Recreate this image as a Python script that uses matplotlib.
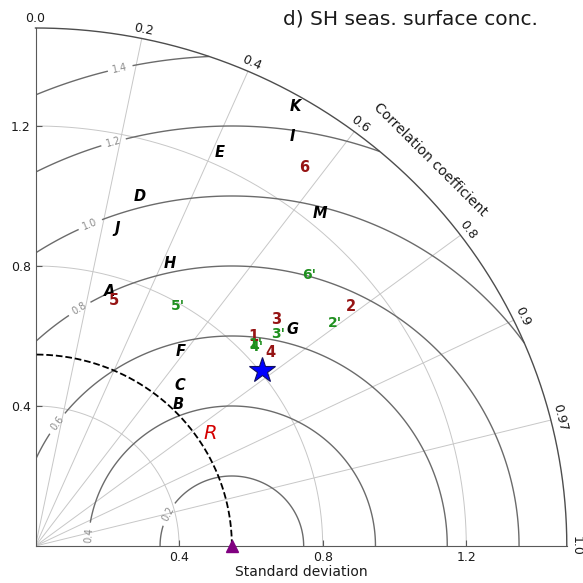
import numpy as np
import matplotlib
matplotlib.use('Agg')
import matplotlib.pyplot as plt

# reference (observations) and plot range
ref_std = 0.547
std_max = 1.48

corr_ticks = [0.0, 0.2, 0.4, 0.6, 0.8, 0.9, 0.97, 1.0]
corr_tick_labels = ['0.0', '0.2', '0.4', '0.6', '0.8', '0.9', '0.97', '1.0']
std_ticks = [0.4, 0.8, 1.2]
rms_levels = [0.2, 0.4, 0.6, 0.8, 1.0, 1.2, 1.4]

# model letters (black)
letter_names = ['A', 'B', 'C', 'D', 'E', 'F', 'G', 'H', 'I', 'J', 'K', 'M']
letter_std = [0.755, 0.568, 0.611, 1.039, 1.235, 0.687, 0.945, 0.889, 1.372, 0.934, 1.448, 1.238]
letter_corr = [0.272, 0.700, 0.659, 0.280, 0.416, 0.589, 0.757, 0.422, 0.521, 0.243, 0.499, 0.640]

# numbered runs (dark red)
num_names = ['1', '2', '3', '4', '5', '6']
num_std = [0.852, 1.113, 0.932, 0.855, 0.734, 1.314]
num_corr = [0.712, 0.789, 0.719, 0.764, 0.298, 0.569]

# primed runs (green)
prime_names = ["1'", "2'", "3'", "4'", "5'", "6'"]
prime_std = [0.841, 1.049, 0.906, 0.839, 0.793, 1.086]
prime_corr = [0.728, 0.794, 0.745, 0.734, 0.502, 0.701]

# R and multi-model mean (star)
r_std, r_corr = 0.582, 0.835
star_std, star_corr = 0.808, 0.782

# RMS label anchor points (x, y)
rms_label_xy = [(0.366, 0.093), (0.147, 0.031), (0.054, 0.355), (0.124, 0.676),
                (0.152, 0.920), (0.217, 1.155), (0.235, 1.369)]


def to_xy(std, corr):
    th = np.arccos(np.asarray(corr))
    return np.asarray(std) * np.cos(th), np.asarray(std) * np.sin(th)


fig = plt.figure(figsize=(5.83, 5.83), dpi=100)
ax = fig.add_axes([35.5 / 583, 37 / 583, 531.3 / 583, 518 / 583])
ax.set_xlim(0, std_max)
ax.set_ylim(0, std_max)

# 1. grid: std arcs and correlation rays
th = np.linspace(0, np.pi / 2, 300)
for s in std_ticks:
    ax.plot(s * np.cos(th), s * np.sin(th), color='0.78', lw=0.7, zorder=1)
for c in corr_ticks[1:-1]:
    t = np.arccos(c)
    ax.plot([0, std_max * np.cos(t)], [0, std_max * np.sin(t)], color='0.78', lw=0.7, zorder=1)

# 2. RMS difference contours
rs, ts = np.meshgrid(np.linspace(0, std_max, 400), np.linspace(0, np.pi / 2, 400))
rms = np.sqrt(ref_std**2 + rs**2 - 2 * ref_std * rs * np.cos(ts))
cs = ax.contour(rs * np.cos(ts), rs * np.sin(ts), rms, levels=rms_levels,
                colors='0.42', linewidths=1.0, zorder=2)
ax.clabel(cs, inline=True, fontsize=7, fmt='%.1f', colors='0.55', manual=rms_label_xy)

# 3. outer arc, reference arc and reference point
ax.plot(std_max * np.cos(th), std_max * np.sin(th), color='0.3', lw=1.0, clip_on=False, zorder=3)
ax.plot(ref_std * np.cos(th), ref_std * np.sin(th), 'k--', lw=1.3, zorder=3)
ax.plot([ref_std], [0], marker='^', color='#800080', ms=8, clip_on=False, zorder=6)

# correlation tick labels
for c, lab in zip(corr_ticks, corr_tick_labels):
    t = np.arccos(c)
    r = std_max + 0.027
    ax.text(r * np.cos(t), r * np.sin(t), lab, rotation=np.degrees(t) - 90,
            ha='center', va='center', fontsize=9, color='0.1', rotation_mode='anchor')
ta = np.radians(45.1)
ax.text(1.557 * np.cos(ta), 1.557 * np.sin(ta), 'Correlation coefficient', rotation=-44.9,
        ha='center', va='center', fontsize=10, color='0.1', rotation_mode='anchor')

# 4. model labels
x, y = to_xy(letter_std, letter_corr)
for n, xi, yi in zip(letter_names, x, y):
    ax.text(xi, yi, n, ha='center', va='center', fontsize=10.5, fontweight='bold',
            fontstyle='italic', color='k', zorder=5)
x, y = to_xy(num_std, num_corr)
for n, xi, yi in zip(num_names, x, y):
    ax.text(xi, yi, n, ha='center', va='center', fontsize=10.5, fontweight='bold',
            color='#961414', zorder=5)
x, y = to_xy(prime_std, prime_corr)
for n, xi, yi in zip(prime_names, x, y):
    ax.text(xi, yi, n, ha='center', va='center', fontsize=10, fontweight='bold',
            color='#1f8f1f', zorder=5)
x, y = to_xy(r_std, r_corr)
ax.text(x, y, 'R', ha='center', va='center', fontsize=14, fontstyle='italic',
        color='#d40000', zorder=5)
x, y = to_xy(star_std, star_corr)
ax.plot([x], [y], marker='*', color='#0000ff', mec='#101060', mew=0.8, ms=19, zorder=6)

# 5. axes styling
for side in ['top', 'right']:
    ax.spines[side].set_visible(False)
for side in ['left', 'bottom']:
    ax.spines[side].set_color('0.35')
ax.set_xticks(std_ticks)
ax.set_yticks(std_ticks)
ax.set_xticklabels(['%.1f' % v for v in std_ticks])
ax.set_yticklabels(['%.1f' % v for v in std_ticks])
ax.tick_params(direction='in', length=4, color='0.35', labelsize=9, labelcolor='0.1')
ax.set_xlabel('Standard deviation', fontsize=10, color='0.1', labelpad=1)

fig.text(283 / 583, 1 - 19 / 583, 'd) SH seas. surface conc.', ha='left', va='center',
         fontsize=14.5, color='0.1')

fig.savefig('out.png', dpi=100)
